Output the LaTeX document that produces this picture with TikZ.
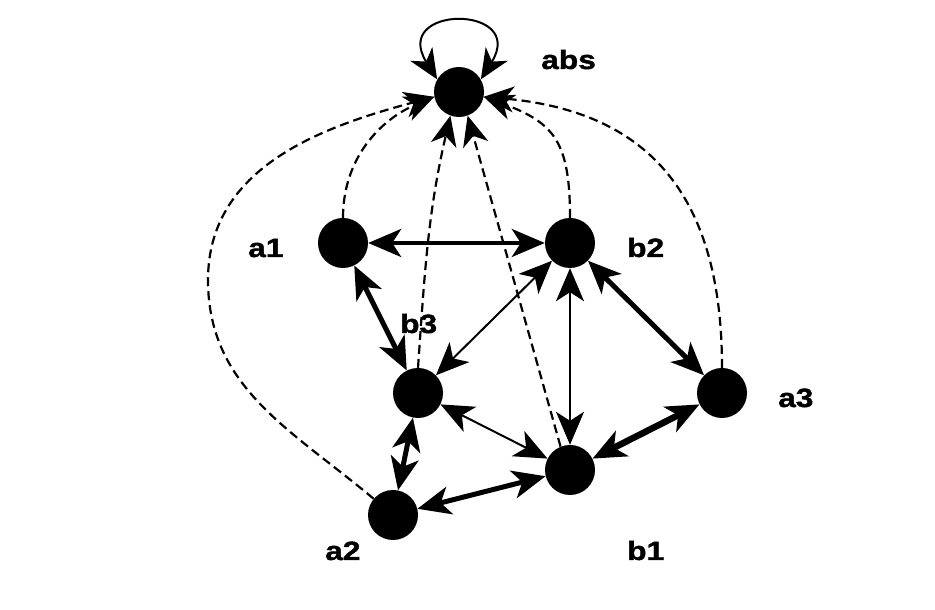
\documentclass[tikz,border=0pt]{standalone}
\usepackage{fontspec}
\newfontfamily\lblfont[FakeStretch=1.2,BoldFeatures={FakeBold=1.5}]{Liberation Sans}
\usetikzlibrary{arrows.meta}
\begin{document}
\begin{tikzpicture}[x=1bp,y=1bp,
  >={Stealth[length=33bp,width=28bp,inset=9bp]},
  vertex/.style={circle,fill=black,inner sep=0pt,minimum size=50bp},
  lbl/.style={anchor=base west,inner sep=0pt,
    font=\lblfont\bfseries\fontsize{26.5}{30}\selectfont},
  lightedge/.style={line width=2bp,<->},
  midedge/.style={line width=4bp,<->},
  heavyedge/.style={line width=5bp,<->},
  boldedge/.style={line width=6.5bp,<->},
  feed/.style={line width=2.2bp,dash pattern=on 9bp off 5bp,
    -{Stealth[length=30bp,width=26bp,inset=9bp]}},
  loopedge/.style={line width=2bp,
    {Stealth[length=30bp,width=26bp,inset=9bp]}-{Stealth[length=30bp,width=26bp,inset=9bp]}}]
\useasboundingbox (0,0) rectangle (935,610);

% states
\node[vertex] (abs) at (459,518) {};
\node[vertex] (a1)  at (343,367) {};
\node[vertex] (b2)  at (570,367) {};
\node[vertex] (b3)  at (418,217) {};
\node[vertex] (a3)  at (722,217) {};
\node[vertex] (b1)  at (570,140) {};
\node[vertex] (a2)  at (393,95)  {};

% labels
\node[lbl] (labs) at (541,541) {abs};
\node[lbl] (la1)  at (248,353) {a1};
\node[lbl] (lb2)  at (627,353) {b2};
\node[lbl] (lb3)  at (400,277) {b3};
\node[lbl] (la3)  at (778,203) {a3};
\node[lbl] (la2)  at (325,50)  {a2};
\node[lbl] (lb1)  at (627,50)  {b1};

% transitions between states
\draw[midedge]   (a1) -- (b2);
\draw[heavyedge] (a1) -- (b3);
\draw[lightedge] (b2) -- (b3);
\draw[lightedge] (b2) -- (b1);
\draw[heavyedge] (b2) -- (a3);
\draw[lightedge] (b3) -- (b1);
\draw[boldedge]  (b1) -- (a3);
\draw[heavyedge] (b3) -- (a2);
\draw[heavyedge] (a2) -- (b1);

% self loop on abs
\draw[loopedge] (abs.150) to[out=122,in=58,looseness=5.2] (abs.30);

% dashed transitions into abs
\coordinate (bulge) at (208,330);
\draw[feed] (a1.north) to[out=90,in=203] (abs.191);
\draw[feed] (a2.140) to[out=140,in=270] (bulge) to[out=90,in=195] (abs.191);
\draw[feed] (b3.north) to[out=86,in=257] (abs.250);
\draw[feed] (b1.112) -- (abs.290);
\draw[feed] (b2.north) to[out=90,in=340,looseness=1.3] (abs.349);
\draw[feed] (a3.north) to[out=90,in=355,looseness=1.2] (abs.349);
\end{tikzpicture}
\end{document}
